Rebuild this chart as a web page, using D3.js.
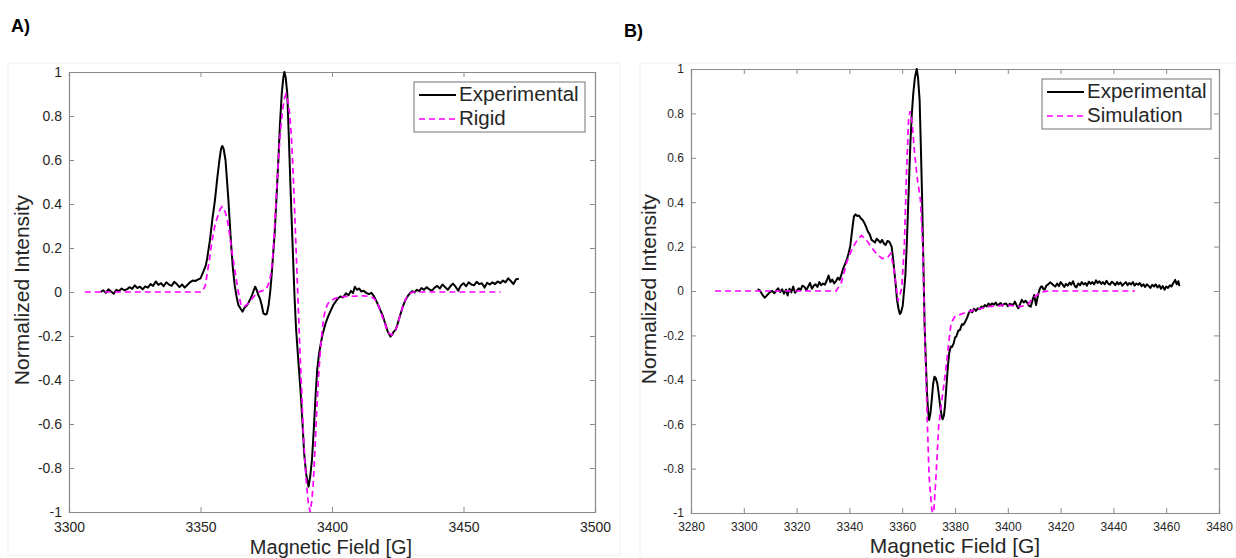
<!DOCTYPE html>
<html>
<head>
<meta charset="utf-8">
<script src="https://cdn.jsdelivr.net/npm/d3@7"></script>
<style>
  html, body { margin: 0; padding: 0; background: #fff; }
  svg { display: block; font-family: "Liberation Sans", Arial, sans-serif; }
</style>
</head>
<body>
<svg id="chart" width="1236" height="558"></svg>
<script>
// ---------------- DATA ----------------
const panelTitles = ["A)", "B)"];
const legendA = ["Experimental", "Rigid"];
const legendB = ["Experimental", "Simulation"];
const xTicksA = [3300, 3350, 3400, 3450, 3500];
const xTicksB = [3280, 3300, 3320, 3340, 3360, 3380, 3400, 3420, 3440, 3460, 3480];
const yTicks = [-1, -0.8, -0.6, -0.4, -0.2, 0, 0.2, 0.4, 0.6, 0.8, 1];
const xLabel = "Magnetic Field [G]";
const yLabel = "Normalized Intensity";

// Panel A – experimental spectrum [field G, normalized intensity]
const expA = [
[3312,0.000],[3313,0.008],[3314,-0.004],[3315,0.012],[3316,0.002],[3317,-0.008],[3318,0.010],[3319,0.004],
[3320,0.016],[3321,0.008],[3322,0.012],[3323,0.022],[3324,0.014],[3325,0.030],[3326,0.018],[3327,0.024],
[3328,0.012],[3329,0.026],[3330,0.020],[3331,0.036],[3332,0.028],[3333,0.048],[3334,0.032],[3335,0.040],
[3336,0.026],[3337,0.044],[3338,0.034],[3339,0.028],[3340,0.046],[3341,0.036],[3342,0.022],[3343,0.034],
[3344,0.020],[3345,0.032],[3346,0.044],[3347,0.052],[3348,0.050],[3349,0.056],[3350,0.062],[3351,0.090],
[3352,0.120],[3352.5,0.150],[3353.6,0.236],[3354.5,0.330],[3355.5,0.418],[3356.4,0.520],[3357.2,0.600],
[3357.8,0.650],[3358.3,0.664],[3358.8,0.650],[3359.5,0.600],[3360.0,0.520],[3360.6,0.420],[3361.2,0.300],
[3361.7,0.206],[3362.3,0.110],[3363.0,0.030],[3363.7,-0.020],[3364.4,-0.059],[3365.2,-0.075],[3366.0,-0.089],
[3366.7,-0.072],[3367.4,-0.064],[3368.2,-0.050],[3369.0,-0.030],[3369.6,-0.014],[3370.3,0.010],[3370.8,0.024],
[3371.4,0.008],[3372.0,-0.015],[3372.6,-0.030],[3373.3,-0.060],[3373.9,-0.097],[3374.6,-0.102],[3375.2,-0.100],
[3375.9,-0.060],[3376.5,0.000],[3376.9,0.055],[3377.5,0.150],[3378.2,0.267],[3378.9,0.430],[3379.6,0.600],
[3380.2,0.760],[3380.9,0.903],[3381.5,0.975],[3381.9,1.000],[3382.4,0.975],[3383.0,0.900],[3383.6,0.700],
[3384.3,0.449],[3385.0,0.220],[3385.7,-0.006],[3386.3,-0.160],[3387.0,-0.279],[3387.5,-0.360],[3388.1,-0.460],
[3388.8,-0.600],[3389.4,-0.733],[3390.2,-0.830],[3391.1,-0.885],[3391.7,-0.840],[3392.4,-0.760],[3393.1,-0.620],
[3393.8,-0.460],[3394.4,-0.350],[3395.1,-0.279],[3395.8,-0.230],[3396.5,-0.188],[3397.5,-0.145],[3398.5,-0.112],
[3399.5,-0.085],[3400.5,-0.059],[3401.3,-0.045],[3402.2,-0.030],[3403.2,-0.020],[3404.2,-0.025],[3405.3,-0.006],
[3406.3,-0.015],[3407.2,0.005],[3408.0,-0.005],[3408.7,0.024],[3409.5,0.010],[3410.3,0.016],[3411.2,0.002],
[3412.0,0.006],[3413.0,-0.004],[3414.0,-0.010],[3415.0,-0.004],[3416.0,-0.020],[3417.0,-0.045],[3418.1,-0.074],
[3419.2,-0.105],[3420.2,-0.142],[3421.2,-0.180],[3422.2,-0.203],[3422.8,-0.195],[3423.5,-0.180],[3424.2,-0.172],
[3424.8,-0.150],[3425.8,-0.110],[3426.9,-0.067],[3428.0,-0.035],[3429.0,-0.015],[3429.6,-0.006],[3430.5,0.004],
[3431.3,-0.002],[3432.3,0.010],[3433.2,0.004],[3434.0,0.018],[3435.0,0.010],[3436.0,0.022],[3437.0,0.012],
[3438.0,0.006],[3439.0,0.020],[3440.0,0.028],[3441.0,0.016],[3442.0,0.034],[3443.0,0.022],[3444.0,0.010],
[3445.0,0.026],[3446.0,0.038],[3447.0,0.024],[3448.0,0.006],[3449.0,0.030],[3450.0,0.040],[3451.0,0.026],
[3452.0,0.044],[3453.0,0.034],[3454.0,0.030],[3455.0,0.046],[3456.0,0.036],[3457.0,0.040],[3458.0,0.020],
[3459.0,0.042],[3460.0,0.034],[3461.0,0.044],[3462.0,0.036],[3463.0,0.048],[3464.0,0.040],[3465.0,0.052],
[3466.0,0.044],[3467.0,0.062],[3468.0,0.050],[3469.0,0.036],[3470.0,0.058],[3471.0,0.060]
];

// Panel A – rigid-limit simulation
const rigidA = [
[3306,0],[3350.5,0],[3351.8,0.027],[3353.2,0.133],[3354.5,0.240],[3355.6,0.310],[3356.6,0.345],[3357.4,0.375],
[3358.2,0.388],[3359.0,0.375],[3359.9,0.345],[3360.6,0.300],[3361.3,0.240],[3362.0,0.180],[3362.6,0.133],
[3363.3,0.080],[3364.0,0.027],[3364.7,-0.020],[3365.4,-0.059],[3366.0,-0.066],[3366.7,-0.066],[3367.7,-0.057],
[3368.7,-0.044],[3370.0,-0.025],[3371.4,-0.006],[3373.0,0.004],[3374.8,0.010],[3376.0,0.040],[3376.9,0.088],
[3377.6,0.180],[3378.2,0.300],[3378.9,0.450],[3379.6,0.600],[3380.4,0.730],[3381.2,0.827],[3381.9,0.880],
[3382.5,0.900],[3383.2,0.870],[3383.9,0.810],[3384.5,0.720],[3385.0,0.600],[3385.7,0.400],[3386.3,0.206],
[3387.0,-0.010],[3387.7,-0.233],[3388.4,-0.430],[3389.0,-0.612],[3389.7,-0.770],[3390.4,-0.885],[3391.0,-0.960],
[3391.7,-1.000],[3392.2,-0.960],[3392.8,-0.885],[3393.5,-0.720],[3394.2,-0.536],[3394.8,-0.400],[3395.5,-0.279],
[3396.2,-0.180],[3396.9,-0.112],[3397.6,-0.075],[3398.5,-0.052],[3399.8,-0.038],[3401.2,-0.029],[3405.3,-0.020],
[3412.0,-0.018],[3414.5,-0.020],[3416.0,-0.029],[3417.4,-0.055],[3418.7,-0.097],[3419.7,-0.130],[3420.7,-0.165],
[3421.7,-0.188],[3422.7,-0.195],[3423.7,-0.183],[3424.8,-0.157],[3425.8,-0.110],[3426.9,-0.067],[3427.9,-0.035],
[3428.9,-0.014],[3430.0,-0.004],[3431.0,0],[3464.1,0]
];

// Panel B – experimental spectrum
const expB = [
[3305.2,0.008],[3306.0,0.004],[3306.5,-0.006],[3307.2,-0.020],[3307.9,-0.030],[3308.6,-0.022],[3309.2,-0.014],
[3310.0,-0.004],[3310.8,0.000],[3311.6,-0.010],[3312.4,0.004],[3313.0,0.012],[3313.8,-0.004],[3314.5,0.008],
[3315.2,-0.012],[3316.0,0.006],[3316.6,-0.020],[3317.3,0.010],[3318.0,-0.006],[3318.7,0.020],[3319.4,-0.008],
[3320.1,0.002],[3320.8,0.012],[3321.5,0.004],[3322.2,0.024],[3323.0,0.018],[3323.7,0.004],[3324.4,0.020],
[3325.1,0.036],[3325.8,0.010],[3326.5,0.024],[3327.2,0.030],[3327.9,0.018],[3328.6,0.040],[3329.3,0.026],
[3330.0,0.034],[3330.7,0.028],[3331.4,0.046],[3332.1,0.070],[3332.8,0.040],[3333.5,0.052],[3334.2,0.034],
[3335.0,0.046],[3335.6,0.060],[3336.3,0.050],[3337.0,0.075],[3337.6,0.100],[3338.3,0.120],[3339.0,0.140],
[3339.7,0.170],[3340.3,0.200],[3341.0,0.270],[3341.7,0.335],[3342.3,0.345],[3343.0,0.338],[3343.6,0.340],
[3344.3,0.328],[3345.0,0.320],[3345.7,0.306],[3346.3,0.290],[3347.0,0.268],[3347.7,0.255],[3348.4,0.230],
[3349.0,0.225],[3349.7,0.218],[3350.3,0.235],[3351.0,0.228],[3351.7,0.218],[3352.4,0.230],[3353.0,0.215],
[3353.7,0.207],[3354.4,0.225],[3355.1,0.222],[3355.6,0.210],[3356.0,0.200],[3356.6,0.140],[3357.1,0.080],
[3357.6,0.020],[3358.0,-0.036],[3358.6,-0.080],[3359.1,-0.104],[3359.6,-0.095],[3360.2,-0.066],[3360.7,0.000],
[3361.2,0.070],[3361.7,0.200],[3362.2,0.365],[3362.6,0.500],[3363.1,0.665],[3363.6,0.790],[3364.2,0.890],
[3364.8,0.960],[3365.5,1.000],[3366.0,0.960],[3366.6,0.860],[3367.0,0.680],[3367.5,0.440],[3368.0,0.140],
[3368.5,-0.160],[3369.0,-0.330],[3369.4,-0.460],[3369.8,-0.540],[3370.2,-0.581],[3370.7,-0.550],[3371.2,-0.490],
[3371.7,-0.420],[3372.2,-0.386],[3372.7,-0.392],[3373.3,-0.416],[3373.8,-0.460],[3374.4,-0.520],[3374.9,-0.560],
[3375.3,-0.578],[3375.8,-0.560],[3376.2,-0.520],[3376.8,-0.420],[3377.3,-0.340],[3377.8,-0.280],[3378.4,-0.250],
[3378.9,-0.252],[3379.5,-0.236],[3380.0,-0.210],[3380.5,-0.205],[3381.2,-0.180],[3381.9,-0.175],[3382.6,-0.150],
[3383.2,-0.152],[3383.9,-0.138],[3384.6,-0.120],[3385.2,-0.100],[3385.9,-0.086],[3386.5,-0.096],[3387.2,-0.080],
[3387.9,-0.090],[3388.6,-0.078],[3389.3,-0.082],[3390.0,-0.070],[3390.6,-0.076],[3391.3,-0.063],[3392.0,-0.070],
[3392.7,-0.056],[3393.4,-0.066],[3394.0,-0.056],[3394.7,-0.062],[3395.4,-0.052],[3396.0,-0.064],[3396.6,-0.060],
[3397.3,-0.054],[3398.0,-0.066],[3398.6,-0.058],[3399.3,-0.056],[3400.0,-0.068],[3400.7,-0.058],[3401.3,-0.060],
[3402.0,-0.063],[3402.7,-0.048],[3403.4,-0.066],[3404.0,-0.078],[3404.6,-0.060],[3405.3,-0.040],[3406.0,-0.052],
[3406.7,-0.044],[3407.4,-0.053],[3408.0,-0.066],[3408.7,-0.071],[3409.4,-0.040],[3410.0,-0.018],[3410.7,-0.063],
[3411.4,-0.020],[3412.0,0.006],[3412.6,0.020],[3413.0,0.020],[3413.5,0.008],[3414.0,0.006],[3414.6,0.024],
[3415.3,0.030],[3416.0,0.039],[3416.6,0.034],[3417.3,0.026],[3418.0,0.020],[3418.7,0.034],[3419.4,0.022],
[3420.0,0.040],[3420.7,0.030],[3421.4,0.018],[3422.0,0.032],[3422.7,0.024],[3423.4,0.038],[3424.0,0.028],
[3424.7,0.044],[3425.4,0.022],[3426.0,0.016],[3426.7,0.034],[3427.4,0.026],[3428.0,0.040],[3428.7,0.030],
[3429.4,0.036],[3430.0,0.024],[3430.7,0.042],[3431.4,0.032],[3432.0,0.040],[3432.7,0.030],[3433.4,0.048],
[3434.0,0.036],[3434.7,0.044],[3435.4,0.032],[3436.0,0.040],[3436.7,0.030],[3437.4,0.046],[3438.0,0.034],
[3438.7,0.028],[3439.4,0.042],[3440.0,0.036],[3440.7,0.026],[3441.4,0.040],[3442.0,0.030],[3442.7,0.038],
[3443.4,0.024],[3444.0,0.032],[3444.7,0.040],[3445.4,0.026],[3446.0,0.036],[3446.7,0.030],[3447.4,0.040],
[3448.0,0.024],[3448.7,0.034],[3449.4,0.028],[3450.0,0.036],[3450.7,0.022],[3451.4,0.030],[3452.0,0.018],
[3452.7,0.030],[3453.4,0.022],[3454.0,0.014],[3454.7,0.028],[3455.4,0.020],[3456.0,0.030],[3456.7,0.016],
[3457.4,0.026],[3458.0,0.010],[3458.7,0.022],[3459.4,0.006],[3460.0,0.020],[3460.7,0.014],[3461.4,0.026],
[3462.0,0.020],[3462.7,0.036],[3463.4,0.050],[3464.0,0.030],[3464.6,0.044],[3465.0,0.022]
];

// Panel B – simulation
const simB = [
[3289.1,0],[3335.0,0],[3337.0,0.040],[3339.0,0.130],[3341.0,0.190],[3343.0,0.230],[3344.6,0.250],[3346.4,0.230],
[3348.4,0.196],[3350.4,0.166],[3352.4,0.146],[3354.4,0.150],[3355.7,0.170],[3357.1,0.080],[3358.4,-0.045],
[3359.8,0.010],[3360.8,0.200],[3361.6,0.515],[3362.4,0.770],[3363.0,0.810],[3363.8,0.755],[3364.7,0.620],
[3365.8,0.500],[3366.9,0.410],[3367.8,0.200],[3368.5,-0.160],[3369.4,-0.550],[3370.2,-0.836],[3371.2,-0.986],
[3371.6,-1.000],[3372.0,-0.990],[3372.8,-0.836],[3373.8,-0.611],[3375.2,-0.476],[3376.5,-0.356],[3377.6,-0.236],
[3378.5,-0.146],[3379.9,-0.116],[3383.2,-0.100],[3387.2,-0.086],[3392.6,-0.071],[3399.3,-0.063],[3404.7,-0.070],
[3407.4,-0.063],[3410.0,-0.026],[3412.7,-0.005],[3415.4,0],[3448.2,0]
];

// ---------------- DRAW ----------------
const svg = d3.select("#chart");
const axisColor = "#8a8a8a";
const textColor = "#262626";

const panels = [
  { title: panelTitles[0], titlePos: [11, 32], left: 69, right: 595, top: 72, bottom: 512,
    xDomain: [3300, 3500], xTicks: xTicksA, exp: expA, sim: rigidA, legend: legendA,
    tickFont: 14, xPad: 10.5, yPad: 7, xLabelX: 331, xLabelY: 553.6, xLabelFont: 20, yLabelX: 23,
    legendBox: [414, 82, 171, 50], frame: [8, 63, 612, 492] },
  { title: panelTitles[1], titlePos: [624, 37], left: 691, right: 1219, top: 69, bottom: 513,
    xDomain: [3280, 3480], xTicks: xTicksB, exp: expB, sim: simB, legend: legendB,
    tickFont: 12, xPad: 9, yPad: 7, xLabelX: 955, xLabelY: 553, xLabelFont: 21, yLabelX: 650,
    legendBox: [1042, 79, 169, 50], frame: [640, 63, 596, 495] }
];

panels.forEach((p, i) => {
  const g = svg.append("g");
  // faint figure frame
  g.append("rect").attr("x", p.frame[0]).attr("y", p.frame[1]).attr("width", p.frame[2]).attr("height", p.frame[3])
    .attr("fill", "none").attr("stroke", "#f0f0f0").attr("stroke-width", 1);

  const x = d3.scaleLinear().domain(p.xDomain).range([p.left, p.right]);
  const y = d3.scaleLinear().domain([-1, 1]).range([p.bottom, p.top]);

  // Axes (MATLAB-style, ticks inward on all four sides)
  const tl = 5;
  const bottomAx = d3.axisBottom(x).tickValues(p.xTicks).tickSize(-tl).tickPadding(p.xPad).tickFormat(d3.format("d"));
  const topAx = d3.axisTop(x).tickValues(p.xTicks).tickSize(-tl).tickFormat("");
  const leftAx = d3.axisLeft(y).tickValues(yTicks).tickSize(-tl).tickPadding(p.yPad)
    .tickFormat(d => String(+d.toFixed(1)));
  const rightAx = d3.axisRight(y).tickValues(yTicks).tickSize(-tl).tickFormat("");

  const styleAxis = (sel) => {
    sel.select(".domain").attr("stroke", axisColor).attr("stroke-width", 1.2);
    sel.selectAll(".tick line").attr("stroke", axisColor).attr("stroke-width", 1);
    sel.selectAll(".tick text").attr("fill", textColor).attr("font-size", p.tickFont)
      .attr("font-family", "'Liberation Sans', Arial, sans-serif");
  };
  g.append("g").attr("transform", `translate(0,${p.bottom})`).call(bottomAx).call(styleAxis);
  g.append("g").attr("transform", `translate(0,${p.top})`).call(topAx).call(styleAxis);
  g.append("g").attr("transform", `translate(${p.left},0)`).call(leftAx).call(styleAxis);
  g.append("g").attr("transform", `translate(${p.right},0)`).call(rightAx).call(styleAxis);

  // clip
  const clipId = "clip" + i;
  svg.append("clipPath").attr("id", clipId).append("rect")
    .attr("x", p.left).attr("y", p.top - 1).attr("width", p.right - p.left).attr("height", p.bottom - p.top + 2);

  const line = d3.line().x(d => x(d[0])).y(d => y(d[1]));
  const plot = g.append("g").attr("clip-path", `url(#${clipId})`);
  plot.append("path").datum(p.exp).attr("d", line).attr("fill", "none")
    .attr("stroke", "#000").attr("stroke-width", 2).attr("stroke-linejoin", "round");
  plot.append("path").datum(p.sim).attr("d", line).attr("fill", "none")
    .attr("stroke", "#ff00ff").attr("stroke-width", 1.7).attr("stroke-dasharray", "6,4");

  // axis labels
  g.append("text").attr("x", p.xLabelX).attr("y", p.xLabelY).attr("text-anchor", "middle")
    .attr("font-size", p.xLabelFont).attr("fill", textColor).text(xLabel);
  g.append("text").attr("transform", `translate(${p.yLabelX},${(p.top + p.bottom) / 2 - 2}) rotate(-90)`)
    .attr("text-anchor", "middle").attr("dominant-baseline", "middle")
    .attr("font-size", 21).attr("fill", textColor).text(yLabel);

  // panel title
  g.append("text").attr("x", p.titlePos[0]).attr("y", p.titlePos[1])
    .attr("font-size", 18).attr("font-weight", "bold").attr("fill", "#000").text(p.title);

  // legend
  const [lx, ly, lw, lh] = p.legendBox;
  g.append("rect").attr("x", lx).attr("y", ly).attr("width", lw).attr("height", lh)
    .attr("fill", "#fff").attr("stroke", axisColor).attr("stroke-width", 1.2);
  const rows = [
    { label: p.legend[0], color: "#000", dash: null, w: 2 },
    { label: p.legend[1], color: "#ff00ff", dash: "6,4", w: 1.7 }
  ];
  rows.forEach((r, k) => {
    const cy = ly + 13 + k * 24;
    g.append("line").attr("x1", lx + 5).attr("x2", lx + 42).attr("y1", cy).attr("y2", cy)
      .attr("stroke", r.color).attr("stroke-width", r.w).attr("stroke-dasharray", r.dash);
    g.append("text").attr("x", lx + 45).attr("y", cy + 1).attr("dominant-baseline", "middle")
      .attr("font-size", 20.5).attr("fill", textColor).text(r.label);
  });
});
</script>
</body>
</html>
